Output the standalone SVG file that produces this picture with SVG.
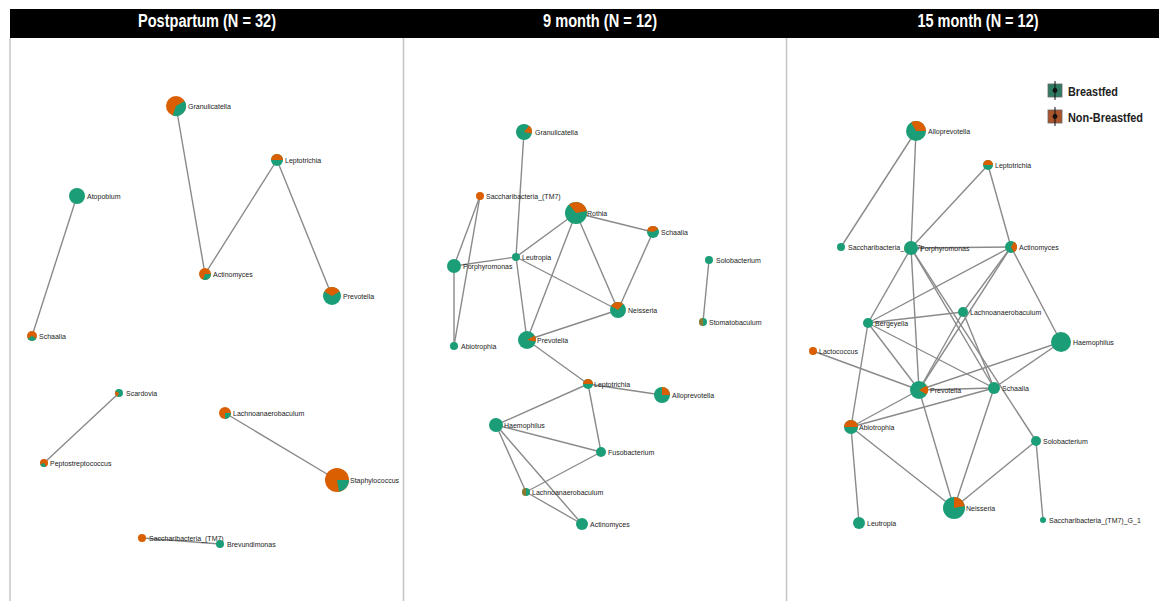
<svg xmlns="http://www.w3.org/2000/svg" width="1159" height="601" viewBox="0 0 1159 601">
<style>
.g{fill:#1b9e77}
.o{fill:#d95f02}
.lbl{font-family:"Liberation Sans",Arial,sans-serif;font-size:7px;fill:#222}
.hdr{font-family:"Liberation Sans",Arial,sans-serif;font-size:18px;font-weight:bold;fill:#fff;text-anchor:middle}
.leg{font-family:"Liberation Sans",Arial,sans-serif;font-size:12px;font-weight:bold;fill:#222}
.sep{stroke:#c4c4c4;stroke-width:1.5}
#connectors line{stroke:#8a8a8a;stroke-width:1.4}
</style>
<rect width="1159" height="601" fill="#fff"/>
<g id="frame">
<rect x="10" y="9" width="1149" height="29" fill="#000"/>
<line class="sep" x1="10" y1="38" x2="10" y2="601"/>
<line class="sep" x1="403.5" y1="38" x2="403.5" y2="601"/>
<line class="sep" x1="786.5" y1="38" x2="786.5" y2="601"/>
<text class="hdr" x="207" y="27" textLength="138" lengthAdjust="spacingAndGlyphs">Postpartum (N = 32)</text>
<text class="hdr" x="600" y="27" textLength="114" lengthAdjust="spacingAndGlyphs">9 month (N = 12)</text>
<text class="hdr" x="978" y="27" textLength="121" lengthAdjust="spacingAndGlyphs">15 month (N = 12)</text>
</g>
<g id="legend">
<rect x="1048" y="84" width="14" height="13" fill="#2f7a62" stroke="#666" stroke-width="0.8"/>
<line x1="1055" y1="81" x2="1055" y2="100" stroke="#111" stroke-width="1"/>
<circle cx="1055" cy="90.5" r="2.4" fill="#111"/>
<text class="leg" x="1068" y="96" textLength="50" lengthAdjust="spacingAndGlyphs">Breastfed</text>
<rect x="1048" y="110" width="14" height="13" fill="#a9542a" stroke="#666" stroke-width="0.8"/>
<line x1="1055" y1="107" x2="1055" y2="126" stroke="#111" stroke-width="1"/>
<circle cx="1055" cy="116.5" r="2.4" fill="#111"/>
<text class="leg" x="1068" y="122" textLength="75" lengthAdjust="spacingAndGlyphs">Non-Breastfed</text>
</g>
<g id="connectors">
<!-- Panel 1 -->
<line x1="176" y1="106" x2="205" y2="274"/>
<line x1="205" y1="274" x2="277" y2="160"/>
<line x1="277" y1="160" x2="332" y2="296"/>
<line x1="77" y1="196" x2="32" y2="336"/>
<line x1="119" y1="393" x2="44" y2="463"/>
<line x1="225" y1="413" x2="337" y2="480"/>
<line x1="142" y1="538" x2="220" y2="544"/>
<!-- Panel 2 -->
<line x1="524" y1="132" x2="516" y2="257"/>
<line x1="516" y1="257" x2="527" y2="340"/>
<line x1="480" y1="196" x2="454" y2="266"/>
<line x1="480" y1="196" x2="454" y2="346"/>
<line x1="454" y1="266" x2="454" y2="346"/>
<line x1="454" y1="266" x2="516" y2="257"/>
<line x1="516" y1="257" x2="576" y2="213"/>
<line x1="516" y1="257" x2="618" y2="310"/>
<line x1="576" y1="213" x2="653" y2="232"/>
<line x1="576" y1="213" x2="618" y2="310"/>
<line x1="576" y1="213" x2="527" y2="340"/>
<line x1="653" y1="232" x2="618" y2="310"/>
<line x1="618" y1="310" x2="527" y2="340"/>
<line x1="709" y1="260" x2="703" y2="322"/>
<line x1="527" y1="340" x2="588" y2="384"/>
<line x1="588" y1="384" x2="662" y2="395"/>
<line x1="588" y1="384" x2="496" y2="425"/>
<line x1="588" y1="384" x2="601" y2="452"/>
<line x1="496" y1="425" x2="601" y2="452"/>
<line x1="496" y1="425" x2="526" y2="492"/>
<line x1="496" y1="425" x2="582" y2="524"/>
<line x1="601" y1="452" x2="526" y2="492"/>
<line x1="526" y1="492" x2="582" y2="524"/>
<!-- Panel 3 -->
<line x1="916" y1="131" x2="841" y2="247"/>
<line x1="916" y1="131" x2="911" y2="248"/>
<line x1="988" y1="165" x2="911" y2="248"/>
<line x1="988" y1="165" x2="1011" y2="247"/>
<line x1="911" y1="248" x2="1011" y2="247"/>
<line x1="911" y1="248" x2="868" y2="323"/>
<line x1="911" y1="248" x2="919" y2="390"/>
<line x1="911" y1="248" x2="994" y2="388"/>
<line x1="911" y1="248" x2="1036" y2="441"/>
<line x1="1011" y1="247" x2="868" y2="323"/>
<line x1="1011" y1="247" x2="963" y2="312"/>
<line x1="1011" y1="247" x2="919" y2="390"/>
<line x1="1011" y1="247" x2="1061" y2="342"/>
<line x1="963" y1="312" x2="868" y2="323"/>
<line x1="963" y1="312" x2="919" y2="390"/>
<line x1="963" y1="312" x2="994" y2="388"/>
<line x1="868" y1="323" x2="919" y2="390"/>
<line x1="868" y1="323" x2="994" y2="388"/>
<line x1="868" y1="323" x2="851" y2="427"/>
<line x1="813" y1="351" x2="919" y2="390"/>
<line x1="919" y1="390" x2="994" y2="388"/>
<line x1="919" y1="390" x2="1061" y2="342"/>
<line x1="994" y1="388" x2="1061" y2="342"/>
<line x1="919" y1="390" x2="851" y2="427"/>
<line x1="994" y1="388" x2="851" y2="427"/>
<line x1="919" y1="390" x2="954" y2="508"/>
<line x1="994" y1="388" x2="954" y2="508"/>
<line x1="851" y1="427" x2="954" y2="508"/>
<line x1="851" y1="427" x2="859" y2="523"/>
<line x1="1036" y1="441" x2="954" y2="508"/>
<line x1="1036" y1="441" x2="1043" y2="520"/>
</g>
<!-- Panel 1 nodes -->
<g id="p1-granulicatella" transform="translate(176,106)"><circle r="10" class="o"/><path class="g" d="M0 0L8.66 -5A10 10 0 0 1 -3.42 9.4Z"/><text class="lbl" x="12" y="2.5">Granulicatella</text></g>
<g id="p1-leptotrichia" transform="translate(277,160)"><circle r="6" class="g"/><path class="o" d="M-6 0A6 6 0 0 1 6 0Z"/><text class="lbl" x="8" y="2.5">Leptotrichia</text></g>
<g id="p1-atopobium" transform="translate(77,196)"><circle r="8" class="g"/><text class="lbl" x="10" y="2.5">Atopobium</text></g>
<g id="p1-actinomyces" transform="translate(205,274)"><circle r="6" class="o"/><path class="g" d="M0 0L6 0A6 6 0 0 1 -2.05 5.64Z"/><text class="lbl" x="8" y="2.5">Actinomyces</text></g>
<g id="p1-prevotella" transform="translate(332,296)"><circle r="9" class="g"/><path class="o" d="M0 0L-7.79 -4.5A9 9 0 0 1 7.79 -4.5Z"/><text class="lbl" x="11" y="2.5">Prevotella</text></g>
<g id="p1-schaalia" transform="translate(32,336)"><circle r="5" class="o"/><path class="g" d="M0 0L4.33 2.5A5 5 0 0 1 -4.33 2.5Z"/><text class="lbl" x="7" y="2.5">Schaalia</text></g>
<g id="p1-scardovia" transform="translate(119,393)"><circle r="4" class="g"/><path class="o" d="M0 0L-1.37 3.76A4 4 0 0 1 -3.46 -2Z"/><text class="lbl" x="7" y="2.5">Scardovia</text></g>
<g id="p1-lachnoanaerobaculum" transform="translate(225,413)"><circle r="6" class="o"/><path class="g" d="M0 0L6 0A6 6 0 0 1 0 6Z"/><text class="lbl" x="8" y="2.5">Lachnoanaerobaculum</text></g>
<g id="p1-peptostreptococcus" transform="translate(44,463)"><circle r="4" class="o"/><path class="g" d="M0 0L2 3.46A4 4 0 0 1 -3.76 1.37Z"/><text class="lbl" x="6" y="2.5">Peptostreptococcus</text></g>
<g id="p1-staphylococcus" transform="translate(337,480)"><circle r="12" class="o"/><path class="g" d="M0 0L12 0A12 12 0 0 1 2.09 11.82Z"/><text class="lbl" x="13" y="2.5">Staphylococcus</text></g>
<g id="p1-saccharibacteria" transform="translate(142,538)"><circle r="4" class="o"/><text class="lbl" x="7" y="2.5">Saccharibacteria_(TM7)</text></g>
<g id="p1-brevundimonas" transform="translate(220,544)"><circle r="4" class="g"/><text class="lbl" x="7" y="2.5">Brevundimonas</text></g>
<!-- Panel 2 nodes -->
<g id="p2-granulicatella" transform="translate(524,132)"><circle r="8" class="g"/><path class="o" d="M0 0L5.14 -6.13A8 8 0 0 1 7.88 1.39Z"/><text class="lbl" x="11" y="2.5">Granulicatella</text></g>
<g id="p2-saccharibacteria" transform="translate(480,196)"><circle r="4" class="o"/><text class="lbl" x="6" y="2.5">Saccharibacteria_(TM7)</text></g>
<g id="p2-rothia" transform="translate(576,213)"><circle r="11" class="g"/><path class="o" d="M0 0L-7.07 -8.43A11 11 0 0 1 10.84 -1.91Z"/><text class="lbl" x="11" y="2.5">Rothia</text></g>
<g id="p2-schaalia" transform="translate(653,232)"><circle r="6" class="g"/><path class="o" d="M0 0L-5.91 -1.04A6 6 0 0 1 5.2 -3Z"/><text class="lbl" x="8" y="2.5">Schaalia</text></g>
<g id="p2-leutropia" transform="translate(516,257)"><circle r="4" class="g"/><text class="lbl" x="6" y="2.5">Leutropia</text></g>
<g id="p2-porphyromonas" transform="translate(454,266)"><circle r="7" class="g"/><text class="lbl" x="9" y="2.5">Porphyromonas</text></g>
<g id="p2-solobacterium" transform="translate(709,260)"><circle r="4" class="g"/><text class="lbl" x="7" y="2.5">Solobacterium</text></g>
<g id="p2-neisseria" transform="translate(618,310)"><circle r="8" class="g"/><path class="o" d="M0 0L-6.93 -4A8 8 0 0 1 5.14 -6.13Z"/><text class="lbl" x="10" y="2.5">Neisseria</text></g>
<g id="p2-stomatobaculum" transform="translate(703,322)"><circle r="4" class="g"/><path class="o" d="M0 -4A4 4 0 0 0 0 4Z" opacity="0.6"/><text class="lbl" x="6" y="2.5">Stomatobaculum</text></g>
<g id="p2-abiotrophia" transform="translate(454,346)"><circle r="4" class="g"/><text class="lbl" x="7" y="2.5">Abiotrophia</text></g>
<g id="p2-prevotella" transform="translate(527,340)"><circle r="9" class="g"/><path class="o" d="M0 0L7.79 -4.5A9 9 0 0 1 8.86 1.56Z"/><text class="lbl" x="10" y="2.5">Prevotella</text></g>
<g id="p2-leptotrichia" transform="translate(588,384)"><circle r="5" class="g"/><path class="o" d="M-5 0A5 5 0 0 1 5 0Z"/><text class="lbl" x="6" y="2.5">Leptotrichia</text></g>
<g id="p2-alloprevotella" transform="translate(662,395)"><circle r="8" class="g"/><path class="o" d="M0 0L0 -8A8 8 0 0 1 8 0Z"/><text class="lbl" x="10" y="2.5">Alloprevotella</text></g>
<g id="p2-haemophilus" transform="translate(496,425)"><circle r="7" class="g"/><text class="lbl" x="8" y="2.5">Haemophilus</text></g>
<g id="p2-fusobacterium" transform="translate(601,452)"><circle r="5" class="g"/><text class="lbl" x="7" y="2.5">Fusobacterium</text></g>
<g id="p2-lachnoanaerobaculum" transform="translate(526,492)"><circle r="4" class="g"/><path class="o" d="M0 -4A4 4 0 0 0 0 4Z" opacity="0.6"/><text class="lbl" x="6" y="2.5">Lachnoanaerobaculum</text></g>
<g id="p2-actinomyces" transform="translate(582,524)"><circle r="6" class="g"/><text class="lbl" x="8" y="2.5">Actinomyces</text></g>
<!-- Panel 3 nodes -->
<g id="p3-alloprevotella" transform="translate(916,131)"><circle r="10" class="g"/><path class="o" d="M0 0L-5 -8.66A10 10 0 0 1 10 0Z"/><text class="lbl" x="12" y="2.5">Alloprevotella</text></g>
<g id="p3-leptotrichia" transform="translate(988,165)"><circle r="5" class="g"/><path class="o" d="M-5 0A5 5 0 0 1 5 0Z"/><text class="lbl" x="7" y="2.5">Leptotrichia</text></g>
<g id="p3-saccharibacteria" transform="translate(841,247)"><circle r="4" class="g"/><text class="lbl" x="7" y="2.5">Saccharibacteria_(TM7)</text></g>
<g id="p3-porphyromonas" transform="translate(911,248)"><circle r="7" class="g"/><text class="lbl" x="9" y="2.5">Porphyromonas</text></g>
<g id="p3-actinomyces" transform="translate(1011,247)"><circle r="6" class="g"/><path class="o" d="M0 0L3 -5.2A6 6 0 0 1 3 5.2Z"/><text class="lbl" x="8" y="2.5">Actinomyces</text></g>
<g id="p3-lachnoanaerobaculum" transform="translate(963,312)"><circle r="5" class="g"/><text class="lbl" x="7" y="2.5">Lachnoanaerobaculum</text></g>
<g id="p3-bergeyella" transform="translate(868,323)"><circle r="5" class="g"/><text class="lbl" x="7" y="2.5">Bergeyella</text></g>
<g id="p3-haemophilus" transform="translate(1061,342)"><circle r="10" class="g"/><text class="lbl" x="12" y="2.5">Haemophilus</text></g>
<g id="p3-lactococcus" transform="translate(813,351)"><circle r="4" class="o"/><text class="lbl" x="6" y="2.5">Lactococcus</text></g>
<g id="p3-prevotella" transform="translate(919,390)"><circle r="9" class="g"/><path class="o" d="M0 0L7.79 -4.5A9 9 0 0 1 7.79 4.5Z"/><text class="lbl" x="11" y="2.5">Prevotella</text></g>
<g id="p3-schaalia" transform="translate(994,388)"><circle r="6" class="g"/><text class="lbl" x="8" y="2.5">Schaalia</text></g>
<g id="p3-abiotrophia" transform="translate(851,427)"><circle r="7" class="g"/><path class="o" d="M-7 0A7 7 0 0 1 7 0Z"/><text class="lbl" x="8" y="2.5">Abiotrophia</text></g>
<g id="p3-solobacterium" transform="translate(1036,441)"><circle r="5" class="g"/><text class="lbl" x="7" y="2.5">Solobacterium</text></g>
<g id="p3-neisseria" transform="translate(954,508)"><circle r="11" class="g"/><path class="o" d="M0 0L0 -11A11 11 0 0 1 10.83 -1.91Z"/><text class="lbl" x="12" y="2.5">Neisseria</text></g>
<g id="p3-leutropia" transform="translate(859,523)"><circle r="6" class="g"/><text class="lbl" x="8" y="2.5">Leutropia</text></g>
<g id="p3-saccharibacteria-g1" transform="translate(1043,520)"><circle r="3" class="g"/><text class="lbl" x="6" y="2.5">Saccharibacteria_(TM7)_G_1</text></g>
</svg>
